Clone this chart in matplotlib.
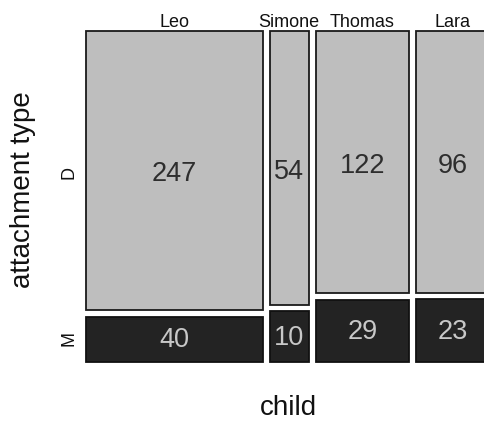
import matplotlib
matplotlib.use("Agg")
import matplotlib.pyplot as plt
from matplotlib.patches import Rectangle

plt.rcParams['font.family'] = ['Liberation Sans', 'DejaVu Sans']

children = ["Leo", "Simone", "Thomas", "Lara"]
types = ["D", "M"]
count_D = [247, 54, 122, 96]
count_M = [40, 10, 29, 23]

W, H = 484, 427
fig = plt.figure(figsize=(W / 100, H / 100), dpi=100)

# axes in pixel terms (right side extends past the figure, as in the reference)
left_px, right_px, top_px, bottom_px = 86, 489, 32, 363
ax = fig.add_axes([left_px / W, 1 - bottom_px / H,
                   (right_px - left_px) / W, (bottom_px - top_px) / H])
ax.set_axis_off()

totals = [d + m for d, m in zip(count_D, count_M)]
grand = sum(totals)
gapx = 0.0182 * grand
gapy = 0.019
xmax = grand + gapx * (len(children) - 1)
ax.set_xlim(0, xmax)
ax.set_ylim(0, 1)

x = 0.0
for name, d, m, t in zip(children, count_D, count_M, totals):
    hm = (1 - gapy) * m / t
    # M box
    ax.add_patch(Rectangle((x, 0), t, hm, facecolor="#232323",
                           edgecolor="#111111", linewidth=1.3, clip_on=False))
    ax.text(x + t / 2, hm / 2, str(m), ha="center", va="center",
            fontsize=19.5, color="#c8c8c8")
    # D box
    ax.add_patch(Rectangle((x, hm + gapy), t, 1 - hm - gapy, facecolor="#bebebe",
                           edgecolor="#1a1a1a", linewidth=1.3, clip_on=False))
    ax.text(x + t / 2, (hm + gapy + 1) / 2 - 0.008, str(d), ha="center", va="center",
            fontsize=19.5, color="#2e2e2e")
    # column label
    ax.text(x + t / 2, 1.016, name, ha="center", va="baseline",
            fontsize=13, color="#111111")
    x += t + gapx

# row labels
fig.text(69 / W, 1 - 173 / H, types[0], rotation=90, ha="center", va="center",
         fontsize=13, color="#111111")
fig.text(69 / W, 1 - 339 / H, types[1], rotation=90, ha="center", va="center",
         fontsize=13, color="#111111")

fig.text(23 / W, 1 - 190 / H, "attachment type", rotation=90, ha="center",
         va="center", fontsize=20, color="#111111")
fig.text(288 / W, 1 - 408 / H, "child", ha="center", va="center",
         fontsize=20, color="#111111")

fig.savefig("out.png", dpi=100, facecolor="white")
